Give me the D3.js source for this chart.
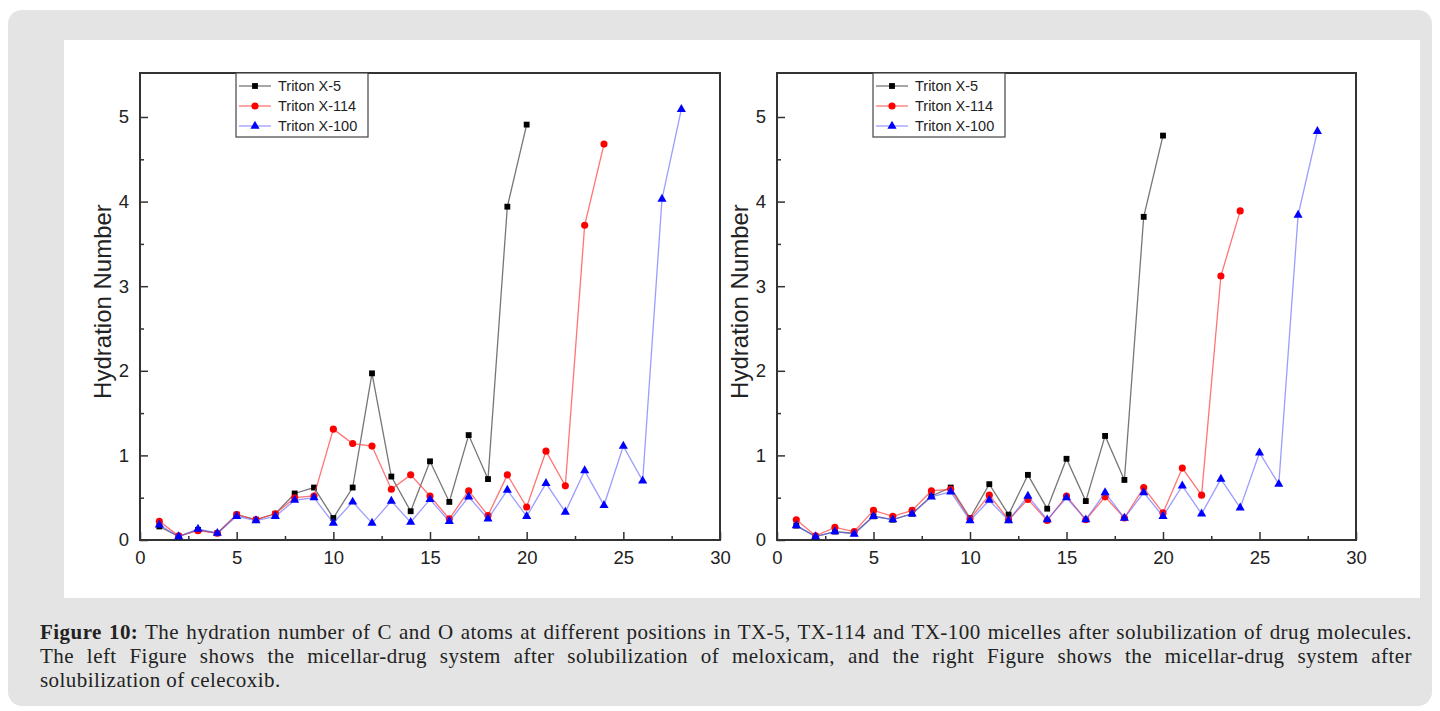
<!DOCTYPE html>
<meta charset="utf-8">
<script src="https://d3js.org/d3.v7.min.js"></script>
<style>
  body { margin: 0; background: #fff; width: 1440px; height: 711px; position: relative; overflow: hidden; }
  #panel { position: absolute; left: 8px; top: 10px; width: 1424px; height: 696px; background: #e4e4e4; border-radius: 14px; }
  #chart { position: absolute; left: 0; top: 0; }
  .cap { position: absolute; left: 40px; width: 1372px; font-family: "Liberation Serif", serif; font-size: 21px; letter-spacing: 0.45px; color: #222; white-space: nowrap; }
  .just { text-align: justify; text-align-last: justify; white-space: normal; }
</style>
<div id="panel"></div>
<div id="chart"></div>
<div class="cap just" style="top:620px"><b>Figure 10:</b> The hydration number of C and O atoms at different positions in TX-5, TX-114 and TX-100 micelles after solubilization of drug molecules.</div>
<div class="cap just" style="top:644px">The left Figure shows the micellar-drug system after solubilization of meloxicam, and the right Figure shows the micellar-drug system after</div>
<div class="cap" style="top:668px">solubilization of celecoxib.</div>
<script>

    // positions along the chain
    var positions = [1, 2, 3, 4, 5, 6, 7, 8, 9, 10, 11, 12, 13, 14, 15, 16, 17, 18, 19, 20, 21, 22, 23, 24, 25, 26, 27, 28];

    // left figure: meloxicam
    var meloX5 = [0.16, 0.04, 0.12, 0.08, 0.30, 0.24, 0.31, 0.55, 0.62, 0.26, 0.62, 1.97, 0.75, 0.34, 0.93, 0.45, 1.24, 0.72, 3.94, 4.91];
    var meloX114 = [0.22, 0.05, 0.11, 0.08, 0.30, 0.24, 0.31, 0.50, 0.52, 1.31, 1.14, 1.11, 0.60, 0.77, 0.52, 0.25, 0.58, 0.29, 0.77, 0.39, 1.05, 0.64, 3.72, 4.68];
    var meloX100 = [0.18, 0.04, 0.13, 0.08, 0.28, 0.23, 0.28, 0.47, 0.50, 0.20, 0.45, 0.20, 0.46, 0.21, 0.48, 0.22, 0.51, 0.25, 0.59, 0.28, 0.67, 0.33, 0.82, 0.41, 1.11, 0.70, 4.03, 5.09];

    // right figure: celecoxib
    var celeX5 = [0.17, 0.04, 0.10, 0.08, 0.28, 0.24, 0.31, 0.52, 0.62, 0.26, 0.66, 0.30, 0.77, 0.37, 0.96, 0.46, 1.23, 0.71, 3.82, 4.78];
    var celeX114 = [0.24, 0.05, 0.15, 0.10, 0.35, 0.28, 0.35, 0.58, 0.60, 0.25, 0.53, 0.24, 0.48, 0.23, 0.52, 0.24, 0.51, 0.26, 0.62, 0.32, 0.85, 0.53, 3.12, 3.89];
    var celeX100 = [0.17, 0.04, 0.10, 0.07, 0.28, 0.24, 0.31, 0.51, 0.57, 0.23, 0.47, 0.23, 0.52, 0.24, 0.50, 0.24, 0.56, 0.26, 0.56, 0.28, 0.64, 0.31, 0.72, 0.38, 1.03, 0.66, 3.84, 4.83];

    var seriesNames = ["Triton X-5", "Triton X-114", "Triton X-100"];
    var xTicks = [0, 5, 10, 15, 20, 25, 30];
    var yTicks = [0, 1, 2, 3, 4, 5];

    var styles = [
        { line: "rgba(60,60,60,0.7)", fill: "#000", shape: d3.symbolSquare, size: 34 },
        { line: "rgba(255,70,70,0.75)", fill: "#ff0000", shape: d3.symbolCircle, size: 40 },
        { line: "rgba(90,90,255,0.6)", fill: "#0000ff", shape: d3.symbolTriangle, size: 36 }
    ];

    var svg = d3.select("#chart")
        .append("svg")
        .attr("width", 1440)
        .attr("height", 711);

    // white image area
    svg.append("rect")
        .attr("x", 64).attr("y", 40)
        .attr("width", 1356).attr("height", 558)
        .attr("fill", "#fff");

    function drawPlot(left, right, data) {
        var top = 73, bottom = 540;
        var x = d3.scaleLinear().domain([0, 30]).range([left, right]);
        var y = d3.scaleLinear().domain([0, 5.52]).range([bottom, top]);
        var g = svg.append("g");
        var axisColor = "#333";
        var font = "Liberation Sans, Arial, sans-serif";

        // minor ticks
        g.append("g")
            .attr("transform", "translate(0," + bottom + ")")
            .call(d3.axisBottom(x).tickValues([2.5, 7.5, 12.5, 17.5, 22.5, 27.5]).tickSizeInner(-4).tickSizeOuter(0).tickFormat(""))
            .call(function (a) { a.select(".domain").remove(); a.selectAll("line").attr("stroke", axisColor).attr("stroke-width", 1.5); });
        g.append("g")
            .attr("transform", "translate(" + left + ",0)")
            .call(d3.axisLeft(y).tickValues([0.5, 1.5, 2.5, 3.5, 4.5]).tickSizeInner(-4).tickSizeOuter(0).tickFormat(""))
            .call(function (a) { a.select(".domain").remove(); a.selectAll("line").attr("stroke", axisColor).attr("stroke-width", 1.5); });

        // major ticks with labels
        g.append("g")
            .attr("transform", "translate(0," + bottom + ")")
            .call(d3.axisBottom(x).tickValues(xTicks).tickSizeInner(-8).tickSizeOuter(0).tickPadding(11))
            .call(function (a) {
                a.select(".domain").remove();
                a.selectAll("line").attr("stroke", axisColor).attr("stroke-width", 1.5);
                a.selectAll("text").attr("font-family", font).attr("font-size", 18.5).attr("fill", "#222");
            });
        g.append("g")
            .attr("transform", "translate(" + left + ",0)")
            .call(d3.axisLeft(y).tickValues(yTicks).tickFormat(d3.format("d")).tickSizeInner(-8).tickSizeOuter(0).tickPadding(11))
            .call(function (a) {
                a.select(".domain").remove();
                a.selectAll("line").attr("stroke", axisColor).attr("stroke-width", 1.5);
                a.selectAll("text").attr("font-family", font).attr("font-size", 18.5).attr("fill", "#222");
            });

        // frame
        g.append("rect")
            .attr("x", left).attr("y", top)
            .attr("width", right - left).attr("height", bottom - top)
            .attr("fill", "none")
            .attr("stroke", axisColor)
            .attr("stroke-width", 2);

        // y label
        g.append("text")
            .attr("transform", "translate(" + (left - 29) + "," + ((top + bottom) / 2 - 5) + ") rotate(-90)")
            .attr("text-anchor", "middle")
            .attr("font-family", font)
            .attr("font-size", 24)
            .attr("fill", "#222")
            .text("Hydration Number");

        // series
        data.forEach(function (vals, i) {
            var pts = vals.map(function (v, k) { return [positions[k], v]; });
            g.append("path")
                .datum(pts)
                .attr("fill", "none")
                .attr("stroke", styles[i].line)
                .attr("stroke-width", 1.3)
                .attr("d", d3.line()
                    .x(function (d) { return x(d[0]); })
                    .y(function (d) { return y(d[1]); }));
            g.selectAll(null)
                .data(pts)
                .enter()
                .append("path")
                .attr("transform", function (d) { return "translate(" + x(d[0]) + "," + y(d[1]) + ")"; })
                .attr("d", d3.symbol().type(styles[i].shape).size(styles[i].size))
                .attr("fill", styles[i].fill);
        });

        // legend
        var lx = left + 96, ly = top;
        var lg = g.append("g");
        lg.append("rect")
            .attr("x", lx).attr("y", ly)
            .attr("width", 132).attr("height", 64)
            .attr("fill", "#fff")
            .attr("stroke", "#444")
            .attr("stroke-width", 1.2);
        seriesNames.forEach(function (name, i) {
            var yy = ly + 13 + i * 20;
            lg.append("line")
                .attr("x1", lx + 3).attr("x2", lx + 35)
                .attr("y1", yy).attr("y2", yy)
                .attr("stroke", styles[i].line)
                .attr("stroke-width", 1.3);
            lg.append("path")
                .attr("transform", "translate(" + (lx + 19) + "," + yy + ")")
                .attr("d", d3.symbol().type(styles[i].shape).size(styles[i].size))
                .attr("fill", styles[i].fill);
            lg.append("text")
                .attr("x", lx + 42).attr("y", yy + 5)
                .attr("font-family", font)
                .attr("font-size", 14.5)
                .attr("fill", "#222")
                .text(name);
        });
    }

    drawPlot(140, 720, [meloX5, meloX114, meloX100]);
    drawPlot(777, 1356, [celeX5, celeX114, celeX100]);
</script>
